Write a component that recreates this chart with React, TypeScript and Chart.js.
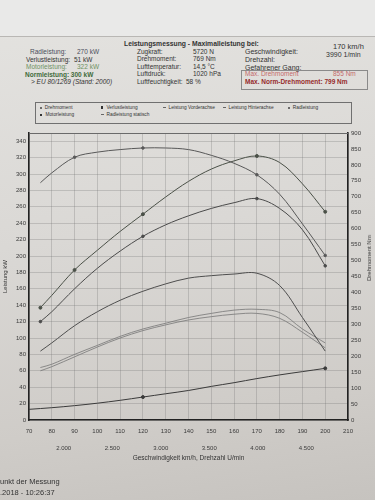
import React, { useEffect, useRef } from "react";
import { Chart, registerables } from "chart.js";

Chart.register(...registerables);

const FONT = '"Liberation Sans", Arial, sans-serif';

// ---- data (km/h on x) ----
const speeds = [75, 80, 90, 100, 110, 120, 130, 140, 150, 160, 170, 180, 190, 200];
const drehmoment = [744, 775, 824, 840, 848, 853, 853, 848, 830, 805, 769, 708, 615, 516]; // Nm
const motorleistung = [137, 152, 183, 207, 230, 251, 272, 291, 306, 316, 322, 314, 288, 254]; // kW
const radleistung = [120, 132, 160, 185, 206, 224, 238, 249, 258, 265, 270, 258, 232, 188];
const radleistungStatisch = [84, 94, 115, 132, 146, 157, 166, 173, 176, 178, 179, 164, 125, 84];
const leistungVorderachse = [64, 68, 80, 91, 102, 111, 118, 125, 130, 134, 135, 131, 111, 94];
const leistungHinterachse = [60, 65, 77, 89, 100, 109, 116, 122, 126, 129, 130, 124, 107, 88];
const verlustSpeeds = [70, 80, 90, 100, 110, 120, 130, 140, 150, 160, 170, 180, 190, 200];
const verlustleistung = [13, 15, 17.5, 20.5, 24, 28, 32, 36, 41, 45.5, 50.5, 55, 59, 63];

// marker positions (km/h)
const drehmomentMarks = [90, 120, 170, 200];
const motorMarks = [75, 90, 120, 170, 200];
const radMarks = [75, 120, 170, 200];
const verlustMarks = [120, 200];

// ---- ticks ----
const speedTicks = [70, 80, 90, 100, 110, 120, 130, 140, 150, 160, 170, 180, 190, 200, 210];
const kwTicks = [0, 20, 40, 60, 80, 100, 120, 140, 160, 180, 200, 220, 240, 260, 280, 300, 320, 340];
const nmTicks = [0, 50, 100, 150, 200, 250, 300, 350, 400, 450, 500, 550, 600, 650, 700, 750, 800, 850, 900];
const rpmTicks = [2000, 2500, 3000, 3500, 4000, 4500];
const refRpm = 3990;
const refSpeed = 170;

const pts = (xs: number[], ys: number[]) => xs.map((x, i) => ({ x, y: ys[i] }));
const marker = (marks: number[], r: number) => (ctx: any) =>
  ctx.raw && marks.includes(ctx.raw.x) ? r : 0;
const fmtRpm = (r: number) => `${Math.floor(r / 1000)}.${String(r % 1000).padStart(3, "0")}`;

const T = ({ x, y, s = 6.5, c = "#333", b = false, i = false, children }: any) => (
  <div
    style={{
      position: "absolute",
      left: x,
      top: y - s / 2,
      fontSize: s,
      lineHeight: 1,
      color: c,
      fontWeight: b ? 700 : 400,
      fontStyle: i ? "italic" : "normal",
      whiteSpace: "nowrap",
    }}
  >
    {children}
  </div>
);

const frame = {
  id: "frame",
  afterDraw(chart: any) {
    const { ctx, chartArea } = chart;
    ctx.save();
    ctx.strokeStyle = "#6a6a6a";
    ctx.lineWidth = 1;
    ctx.beginPath();
    ctx.moveTo(chartArea.left, chartArea.top + 0.5);
    ctx.lineTo(chartArea.right, chartArea.top + 0.5);
    ctx.stroke();
    ctx.restore();
  },
};

export default function App() {
  const ref = useRef<HTMLCanvasElement>(null);

  useEffect(() => {
    const tickFont = { family: FONT, size: 6 };
    const grid = "rgba(110,110,110,0.35)";
    const line = (label: string, data: any, color: string, w: number, yAxisID: string, marks: number[], r: number) => ({
      label,
      data,
      yAxisID,
      borderColor: color,
      backgroundColor: color,
      borderWidth: w,
      pointRadius: marker(marks, r),
      pointHoverRadius: 0,
      tension: 0.35,
      fill: false,
    });
    const chart = new Chart(ref.current!, {
      type: "line",
      data: {
        datasets: [
          line("Drehmoment", pts(speeds, drehmoment), "#585858", 1, "y1", drehmomentMarks, 1.3),
          line("Motorleistung", pts(speeds, motorleistung), "#4a5047", 1, "y", motorMarks, 1.5),
          line("Radleistung", pts(speeds, radleistung), "#4a4a4a", 1, "y", radMarks, 1.3),
          line("Radleistung statisch", pts(speeds, radleistungStatisch), "#4e4e4e", 1, "y", [], 0),
          line("Leistung Vorderachse", pts(speeds, leistungVorderachse), "#767676", 0.8, "y", [], 0),
          line("Leistung Hinterachse", pts(speeds, leistungHinterachse), "#767676", 0.8, "y", [], 0),
          line("Verlustleistung", pts(verlustSpeeds, verlustleistung), "#3a3a3a", 1, "y", verlustMarks, 1.5),
        ],
      },
      options: {
        responsive: false,
        animation: false,
        devicePixelRatio: 1,
        layout: { padding: { top: 133, bottom: 38, left: 0, right: 0 } },
        plugins: { legend: { display: false }, tooltip: { enabled: false } },
        scales: {
          x: {
            type: "linear",
            min: 70,
            max: 210,
            position: "bottom",
            afterBuildTicks: (s: any) => {
              s.ticks = speedTicks.map((v) => ({ value: v }));
            },
            ticks: { font: tickFont, color: "#3a3a3a", padding: 8, maxRotation: 0, autoSkip: false },
            grid: { color: grid, lineWidth: 0.8, drawTicks: false },
            border: { color: "#222", width: 1.6 },
            afterFit: (s: any) => {
              s.height = 16;
            },
          },
          x2: {
            type: "linear",
            min: 70,
            max: 210,
            position: "bottom",
            weight: 1,
            afterBuildTicks: (s: any) => {
              s.ticks = rpmTicks.map((r) => ({ value: (r * refSpeed) / refRpm }));
            },
            ticks: {
              font: tickFont,
              color: "#3a3a3a",
              padding: 9,
              maxRotation: 0,
              autoSkip: false,
              callback: (v: any) => fmtRpm(Math.round((Number(v) * refRpm) / refSpeed / 100) * 100),
            },
            grid: { display: false, drawTicks: false },
            border: { display: false },
            title: {
              display: true,
              text: "Geschwindigkeit km/h, Drehzahl U/min",
              font: { family: FONT, size: 6.5 },
              color: "#333",
              padding: 0,
            },
            afterFit: (s: any) => {
              s.height = 26;
            },
          },
          y: {
            type: "linear",
            min: 0,
            max: 350,
            position: "left",
            afterBuildTicks: (s: any) => {
              s.ticks = kwTicks.map((v) => ({ value: v }));
            },
            ticks: { font: tickFont, color: "#3a3a3a", padding: 3 },
            grid: { color: grid, lineWidth: 0.8, drawTicks: false },
            border: { color: "#222", width: 1.6 },
            title: {
              display: true,
              text: "Leistung kW",
              font: { family: FONT, size: 6 },
              color: "#333",
              padding: { top: 2, bottom: 0 },
            },
            afterFit: (s: any) => {
              s.width = 29;
            },
          },
          y1: {
            type: "linear",
            min: 0,
            max: 900,
            position: "right",
            afterBuildTicks: (s: any) => {
              s.ticks = nmTicks.map((v) => ({ value: v }));
            },
            ticks: { font: tickFont, color: "#3a3a3a", padding: 3 },
            grid: { drawOnChartArea: false, drawTicks: false },
            border: { color: "#222", width: 1.6 },
            afterFit: (s: any) => {
              s.width = 27;
            },
          },
        },
      },
      plugins: [frame],
    });
    return () => chart.destroy();
  }, []);

  const lg = 4.8;
  const dot = (c = "#444", sq = false) => (
    <span
      style={{
        display: "inline-block",
        width: sq ? 2.4 : 1.8,
        height: sq ? 2.4 : 1.8,
        borderRadius: sq ? 0 : 1,
        background: c,
        marginRight: 3,
        verticalAlign: "middle",
      }}
    />
  );
  const dash = (
    <span
      style={{ display: "inline-block", width: 2.5, height: 0.8, background: "#666", marginRight: 3, verticalAlign: "middle" }}
    />
  );

  return (
    <div
      style={{
        position: "fixed",
        left: 0,
        top: 0,
        width: 375,
        height: 500,
        overflow: "hidden",
        background: "linear-gradient(172deg, #e4e3e0 0%, #dad8d5 45%, #cfccc8 80%, #c6c3bf 100%)",
        fontFamily: FONT,
        color: "#333",
      }}
    >
      <div style={{ position: "absolute", left: 0, top: 0, width: 375, height: 36, background: "#e9e9e8" }} />
      <div style={{ position: "absolute", left: 0, top: 36, width: 375, height: 1, background: "#b9b7b4" }} />

      <T x={124} y={44.5} s={6.8} b>Leistungsmessung - Maximalleistung bei:</T>

      <T x={30} y={52.5} c="#4a4e5c">Radleistung:</T>
      <T x={77} y={52.5} c="#4a4e5c">270 kW</T>
      <T x={26} y={60}>Verlustleistung:</T>
      <T x={74} y={60}>51 kW</T>
      <T x={26} y={67.5} c="#6f9263">Motorleistung:</T>
      <T x={77} y={67.5} c="#6f9263">322 kW</T>
      <T x={25} y={74.8} c="#3f6b3b" b>Normleistung: 300 kW</T>
      <T x={31} y={82} i>&gt; EU 80/1269 (Stand: 2000)</T>

      <T x={137} y={52}>Zugkraft:</T>
      <T x={193} y={52}>5720 N</T>
      <T x={137} y={59.5}>Drehmoment:</T>
      <T x={193} y={59.5}>769 Nm</T>
      <T x={137} y={67}>Lufttemperatur:</T>
      <T x={193} y={67}>14,5 °C</T>
      <T x={137} y={74.5}>Luftdruck:</T>
      <T x={193} y={74.5}>1020 hPa</T>
      <T x={137} y={82}>Luftfeuchtigkeit:</T>
      <T x={186} y={82}>58 %</T>

      <T x={245} y={51.7} s={7}>Geschwindigkeit:</T>
      <T x={333} y={46.5} s={7.5}>170 km/h</T>
      <T x={245} y={59.3} s={7}>Drehzahl:</T>
      <T x={326} y={54} s={7}>3990 1/min</T>
      <T x={245} y={67.3} s={7}>Gefahrener Gang:</T>
      <div style={{ position: "absolute", left: 241, top: 70, width: 125, height: 18, border: "0.8px solid #8a8a8a" }} />
      <T x={245} y={74.5} c="#c46a6a">Max. Drehmoment</T>
      <T x={333} y={74.5} c="#c46a6a">855 Nm</T>
      <T x={245} y={82} c="#962b2b" b>Max. Norm-Drehmoment: 799 Nm</T>

      <div style={{ position: "absolute", left: 35, top: 102, width: 315, height: 20, border: "1px solid #707070" }} />
      <T x={40} y={108.3} s={lg}>{dot()}Drehmoment</T>
      <T x={101} y={108.3} s={lg}>{dot("#333", true)}Verlustleistung</T>
      <T x={163} y={108.3} s={lg}>{dash}Leistung Vorderachse</T>
      <T x={223} y={108.3} s={lg}>{dash}Leistung Hinterachse</T>
      <T x={288} y={108.3} s={lg}>{dot()}Radleistung</T>
      <T x={40} y={115.5} s={lg}>{dot("#333", true)}Motorleistung</T>
      <T x={101} y={115.5} s={lg}>{dash}Radleistung statisch</T>

      <canvas
        ref={ref}
        width={375}
        height={500}
        style={{ position: "absolute", left: 0, top: 0, width: 375, height: 500 }}
      />

      <div
        style={{
          position: "absolute",
          left: 369,
          top: 258,
          fontSize: 6,
          whiteSpace: "nowrap",
          transform: "translate(-50%, -50%) rotate(-90deg)",
          color: "#333",
        }}
      >
        Drehmoment Nm
      </div>

      <T x={0} y={482} s={7.5}>unkt der Messung</T>
      <T x={0} y={493} s={7.5}>.2018 - 10:26:37</T>
    </div>
  );
}
